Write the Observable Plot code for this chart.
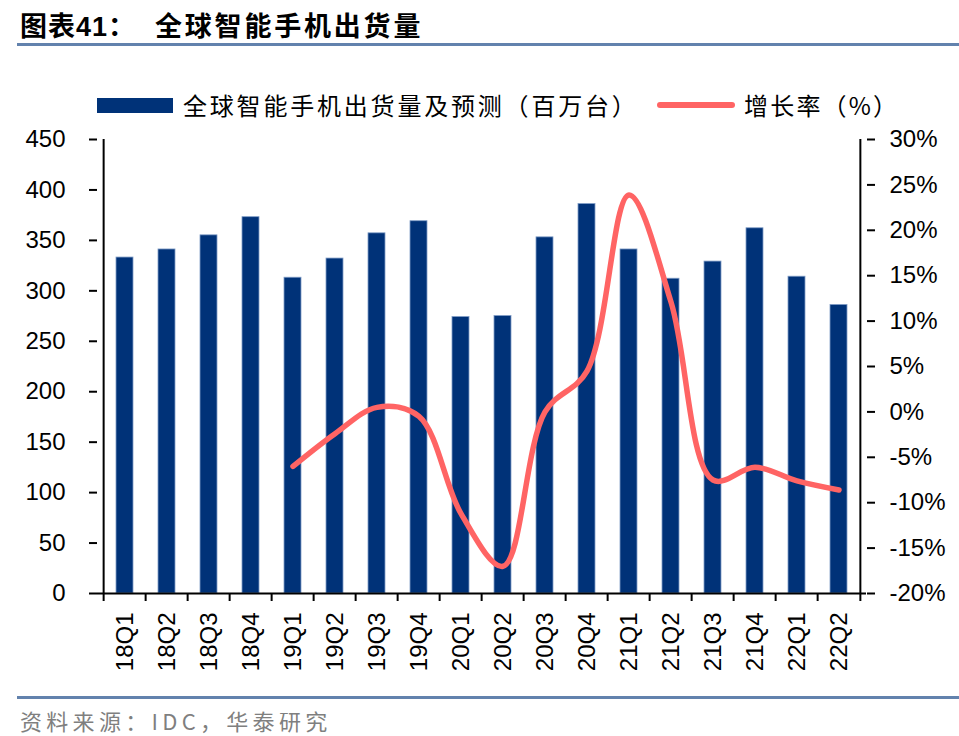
<!DOCTYPE html>
<html><head><meta charset="utf-8">
<script src="https://cdn.jsdelivr.net/npm/d3@7"></script>
<script src="https://cdn.jsdelivr.net/npm/@observablehq/plot@0.6"></script>
<style>
body{margin:0;background:#fff;}
#wrap{position:relative;width:959px;height:736px;overflow:hidden;font-family:"Noto Sans CJK SC","Noto Sans",sans-serif;color:#000;}
.abs{position:absolute;white-space:nowrap;}
.rule{position:absolute;left:17px;right:0;height:3px;background:#6282ad;}
</style></head><body>
<div id="wrap">
  <div class="abs" id="t1" style="left:20px;top:6px;font-size:27px;line-height:38px;font-weight:700;letter-spacing:1px;">图表<span style="font-family:'Liberation Sans',Arial,sans-serif;">41</span>：</div>
  <div class="abs" id="t2" style="left:155px;top:6px;font-size:27px;line-height:38px;font-weight:700;letter-spacing:2.8px;">全球智能手机出货量</div>
  <div class="rule" style="top:43px"></div>
  <div class="abs" style="left:97px;top:98px;width:76px;height:15px;background:#003278;"></div>
  <div class="abs" id="lg1" style="left:183px;top:90px;font-size:24px;line-height:30px;letter-spacing:2.8px;"></div>
  <div class="abs" style="left:657px;top:102px;width:78px;height:6px;border-radius:3px;background:#ff6464;"></div>
  <div class="abs" id="lg2" style="left:744px;top:90px;font-size:24px;line-height:30px;letter-spacing:2.2px;"></div>
  <div id="chart" class="abs" style="left:0;top:120px;"></div>
  <div class="rule" style="top:696px"></div>
  <div class="abs" id="src" style="left:20px;top:705px;font-size:22px;line-height:30px;letter-spacing:4.3px;color:#7f7f7f;"></div>
</div>
<script>
const quarters = ["18Q1","18Q2","18Q3","18Q4","19Q1","19Q2","19Q3","19Q4","20Q1","20Q2","20Q3","20Q4","21Q1","21Q2","21Q3","21Q4","22Q1","22Q2"];
const shipments = [333,341,355,373,313,332,357,369,274,275,353,386,341,312,329,362,314,286];
const growth = [null,null,null,null,-6.0,-2.4,0.5,-0.5,-11.2,-17.0,0.0,4.5,23.9,12.1,-7.5,-6.1,-7.6,-8.6];
const leftTicks = [0,50,100,150,200,250,300,350,400,450];
const rightTicks = [-20,-15,-10,-5,0,5,10,15,20,25,30];
const seriesNames = ["全球智能手机出货量及预测（百万台）","增长率（%）"];
const sourceText = "资料来源：IDC，华泰研究";

document.getElementById("lg1").textContent = seriesNames[0];
document.getElementById("lg2").textContent = seriesNames[1];
document.getElementById("src").textContent = sourceText;

const barData = quarters.map((q,i)=>({q, v: shipments[i]}));
const lineData = quarters.map((q,i)=>({q, g: growth[i]})).filter(d=>d.g!==null);
// right axis (-20%..30%) mapped onto left scale (0..450)
const toLeft = g => (g + 20) * 9;

const W = 959, H = 560, mL = 97, mR = 93, mT = 19, mB = 87;
const step = (W - mL - mR) / quarters.length;
const pxUnit = 450 / (H - mT - mB);
const last = quarters[quarters.length-1];
const axisStyle = {stroke:"#000", strokeWidth:2};

const chart = Plot.plot({
  width: W, height: H,
  marginTop: mT, marginBottom: mB, marginLeft: mL, marginRight: mR,
  style: {fontFamily:"'Liberation Sans', Arial, sans-serif", fontSize:"24px", color:"#000", background:"transparent", overflow:"visible"},
  x: {domain: quarters, paddingInner: 0.6, paddingOuter: 0.3},
  y: {domain: [0, 450]},
  marks: [
    Plot.barY(barData, {x:"q", y:"v", fill:"#003278", stroke:"#7f9cc6", strokeWidth:0.8}),
    Plot.line(lineData, {x:"q", y: d => toLeft(d.g), stroke:"#ff6464", strokeWidth:5.5, curve:"catmull-rom", strokeLinecap:"round", strokeLinejoin:"round"}),
    Plot.ruleY([0], {...axisStyle}),
    Plot.ruleX([quarters[0]], {dx:-step/2, ...axisStyle}),
    Plot.ruleX([last], {dx:step/2, ...axisStyle}),
    Plot.ruleX(quarters, {y1:0, y2:-8*pxUnit, dx:-step/2, ...axisStyle}),
    Plot.ruleX([last], {y1:0, y2:-8*pxUnit, dx:step/2, ...axisStyle}),
    Plot.axisY({anchor:"left", label:null, ticks:leftTicks, tickFormat:d=>String(d), tickSize:8, tickPadding:24, fontSize:24, strokeWidth:2}),
    Plot.axisY({anchor:"right", label:null, ticks:rightTicks.map(toLeft), tickFormat:d=>`${Math.round(d/9-20)}%`, tickSize:8, tickPadding:15, fontSize:24, strokeWidth:2}),
    Plot.axisX({anchor:"bottom", label:null, tickRotate:-90, tickSize:0, tickPadding:19, fontSize:24})
  ]
});
document.getElementById("chart").appendChild(chart);
</script>
</body></html>
